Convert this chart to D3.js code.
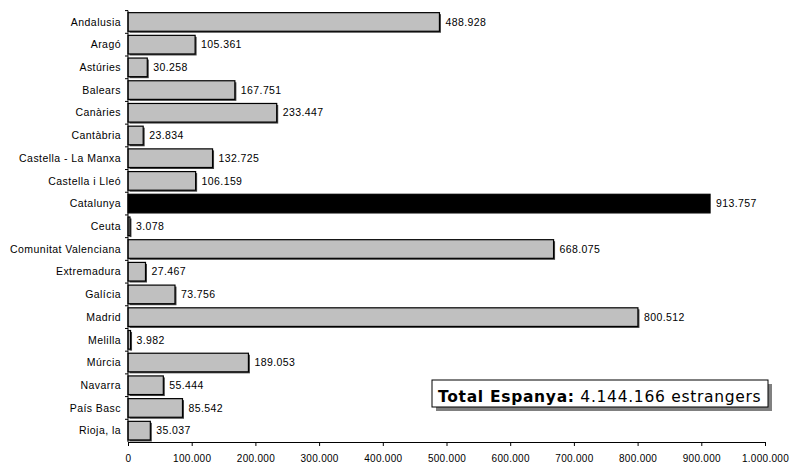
<!DOCTYPE html>
<html><head><meta charset="utf-8">
<script src="https://cdn.jsdelivr.net/npm/d3@7"></script>
<style>body{margin:0;background:#fff}svg{display:block}</style>
</head><body>
<svg id="c" width="791" height="463"></svg>
<script>
const categories = ["Andalusia","Aragó","Astúries","Balears","Canàries","Cantàbria","Castella - La Manxa","Castella i Lleó","Catalunya","Ceuta","Comunitat Valenciana","Extremadura","Galícia","Madrid","Melilla","Múrcia","Navarra","País Basc","Rioja, la"];
const values = [488928,105361,30258,167751,233447,23834,132725,106159,913757,3078,668075,27467,73756,800512,3982,189053,55444,85542,35037];
const valueLabels = ["488.928","105.361","30.258","167.751","233.447","23.834","132.725","106.159","913.757","3.078","668.075","27.467","73.756","800.512","3.982","189.053","55.444","85.542","35.037"];
const xTicks = [0,100000,200000,300000,400000,500000,600000,700000,800000,900000,1000000];
const xTickLabels = ["0","100.000","200.000","300.000","400.000","500.000","600.000","700.000","800.000","900.000","1.000.000"];
const highlight = "Catalunya";
const totalBold = "Total Espanya:";
const totalRest = " 4.144.166 estrangers";

const svg = d3.select("#c");
const m = {l:128, r:26, t:10.6, b:21};
const W = 791, H = 463;
const x = d3.scaleLinear().domain([0,1000000]).range([m.l, W - m.r]);
const y = d3.scaleBand().domain(categories).range([m.t, H - m.b]).paddingInner(0.18).paddingOuter(0.09);
const font = "'Liberation Sans', Arial, sans-serif";

const data = categories.map((c,i)=>({c, v:values[i], lab:valueLabels[i]}));

// shadows
svg.append("g").selectAll("rect").data(data.filter(d=>d.c!==highlight)).join("rect")
  .attr("x", x(0)+1.5).attr("y", d=>y(d.c)+1.5)
  .attr("width", d=>Math.max(0,x(d.v)-x(0))).attr("height", y.bandwidth())
  .attr("fill", "#444");
// bars
svg.append("g").selectAll("rect").data(data).join("rect")
  .attr("x", x(0)).attr("y", d=>y(d.c))
  .attr("width", d=>x(d.v)-x(0)).attr("height", y.bandwidth())
  .attr("fill", d=>d.c===highlight?"#000":"#c0c0c0")
  .attr("stroke", "#000").attr("stroke-width", 1.2);

// value labels
svg.append("g").selectAll("text").data(data).join("text")
  .attr("x", d=>x(d.v)+6).attr("y", d=>y(d.c)+y.bandwidth()/2)
  .attr("dy","0.35em").attr("font-family",font).attr("font-size","10.5px")
  .attr("letter-spacing","0.4px")
  .text(d=>d.lab);

// y axis
const yBand = d3.scaleBand().domain(categories).range([m.t, H - m.b]);
const ya = svg.append("g");
ya.append("line").attr("x1",x(0)).attr("x2",x(0)).attr("y1",m.t).attr("y2",H-m.b).attr("stroke","#000");
ya.selectAll("line.t").data(categories).join("line").attr("class","t")
  .attr("x1",x(0)-3).attr("x2",x(0)).attr("y1",d=>yBand(d)).attr("y2",d=>yBand(d)).attr("stroke","#000");
ya.selectAll("text").data(categories).join("text")
  .attr("x", x(0)-7).attr("y", d=>yBand(d)+yBand.bandwidth()/2)
  .attr("dy","0.35em").attr("text-anchor","end")
  .attr("font-family",font).attr("font-size","10.5px").attr("letter-spacing","0.45px")
  .text(d=>d);

// x axis
const xa = svg.append("g").attr("transform",`translate(0,${H-m.b})`)
  .call(d3.axisBottom(x).tickValues(xTicks).tickFormat((d,i)=>xTickLabels[i]).tickSizeOuter(0).tickSize(4));
xa.select(".domain").attr("stroke","#000");
xa.selectAll(".tick line").attr("stroke","#000");
xa.selectAll("text").attr("font-family",font).attr("font-size","10px").attr("fill","#000").attr("dy","1.3em").attr("letter-spacing","0.3px");

// total box
const bx=432, by=380, bw=336, bh=27;
svg.append("rect").attr("x",bx+4).attr("y",by+4).attr("width",bw).attr("height",bh).attr("fill","#808080");
svg.append("rect").attr("x",bx).attr("y",by).attr("width",bw).attr("height",bh).attr("fill","#fff").attr("stroke","#000");
const t = svg.append("text").attr("x",bx+6).attr("y",by+21.5)
  .attr("font-family","'DejaVu Sans', Verdana, sans-serif").attr("font-size","15.5px").attr("letter-spacing","0.7px");
t.append("tspan").attr("font-weight","bold").text(totalBold);
t.append("tspan").text(totalRest);
</script>
</body></html>
